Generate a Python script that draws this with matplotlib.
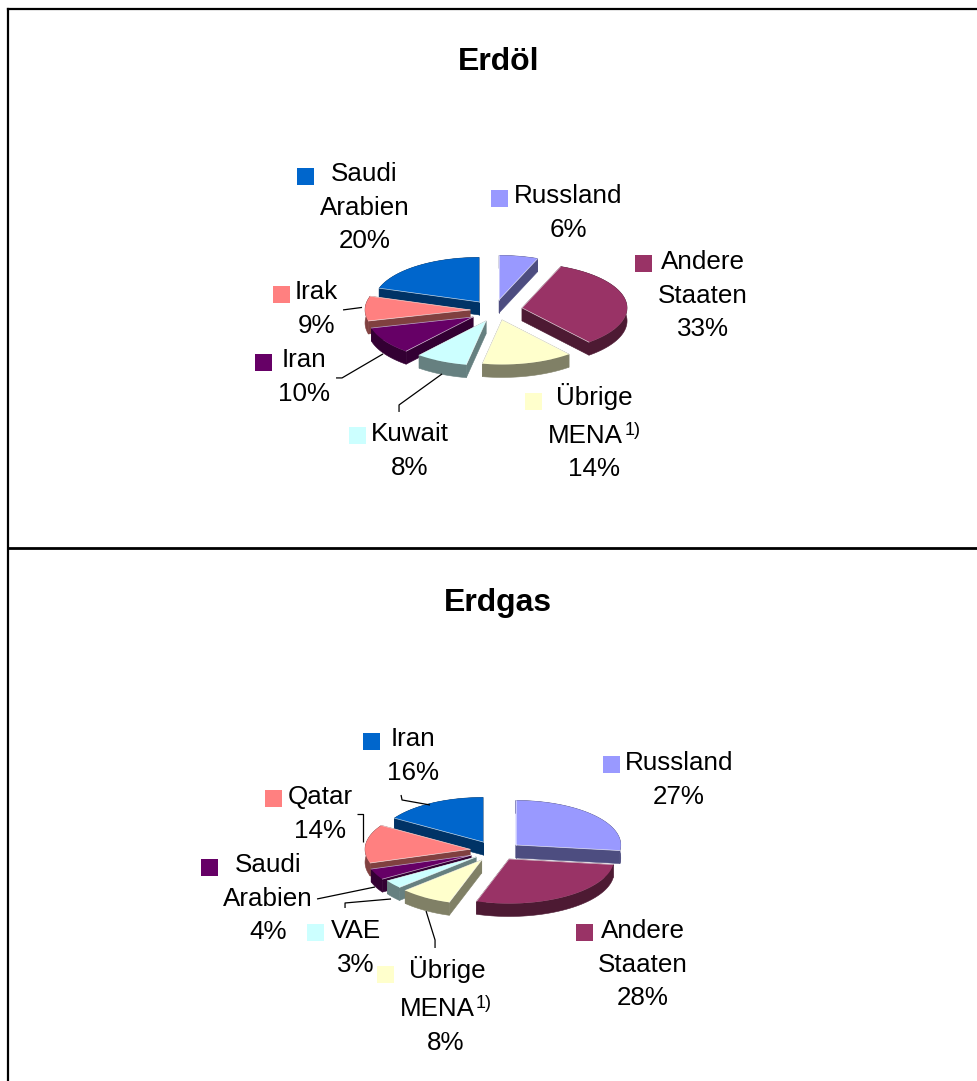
import numpy as np
import matplotlib
matplotlib.use('Agg')
import matplotlib.pyplot as plt
from matplotlib.patches import Rectangle

plt.rcParams['font.family'] = ['Liberation Sans', 'DejaVu Sans']

# shares in percent, clockwise from twelve o'clock
oil_names = ['Russland', 'Andere Staaten', 'Übrige MENA', 'Kuwait', 'Iran', 'Irak', 'Saudi Arabien']
oil_shares = [6, 33, 14, 8, 10, 9, 20]
gas_names = ['Russland', 'Andere Staaten', 'Übrige MENA', 'VAE', 'Saudi Arabien', 'Qatar', 'Iran']
gas_shares = [27, 28, 8, 3, 4, 14, 16]

slice_colors = ['#9999FF', '#993366', '#FFFFCC', '#CCFFFF', '#660066', '#FF8080', '#0066CC']
side_colors = ['#4D4D80', '#4D1A33', '#808066', '#668080', '#330033', '#804040', '#003366']

RX, RY, DEPTH = 105, 44.5, 13
FS = 18.7


def draw_pie(shares, center, explode):
    edges = 90 - 3.6 * np.cumsum([0] + shares)
    mids = (edges[:-1] + edges[1:]) / 2
    # back slices first so the front ones cover them
    for i in np.argsort(-np.sin(np.radians(mids))):
        a = np.radians(np.linspace(edges[i], edges[i + 1], 60))
        tx, ty = center[0] + explode[i][0], center[1] + explode[i][1]
        ax_, ay_ = tx + RX * np.cos(a), ty - RY * np.sin(a)
        # rim band along the arc plus the two cut faces
        ax.fill(np.r_[ax_, ax_[::-1]], np.r_[ay_, ay_[::-1] + DEPTH],
                color=side_colors[i], lw=0.4)
        for px, py in ((ax_[0], ay_[0]), (ax_[-1], ay_[-1])):
            ax.fill([tx, px, px, tx], [ty, py, py + DEPTH, ty + DEPTH],
                    color=side_colors[i], lw=0.4)
        ax.fill(np.r_[tx, ax_], np.r_[ty, ay_], color=slice_colors[i], lw=0)
        # thin light rim where the cut edges catch the light
        ax.plot([tx, ax_[0]], [ty, ay_[0]], color='white', lw=0.5, alpha=0.7)
        ax.plot([tx, ax_[-1]], [ty, ay_[-1]], color='white', lw=0.5, alpha=0.7)


def label(lines, x, y, key=None, key_color=None):
    for n, line in enumerate(lines):
        ax.text(x, y + n * 33.6, line, fontsize=FS, ha='center', va='baseline')
    if key is not None:
        ax.add_patch(Rectangle(key, 17, 17, color=key_color, lw=0))


def leader(xs, ys):
    ax.plot(xs, ys, color='black', lw=0.9, solid_capstyle='butt')


fig = plt.figure(figsize=(9.771, 10.811), dpi=100)
ax = fig.add_axes([0, 0, 1, 1])
ax.set_xlim(0, 977)
ax.set_ylim(1081, 0)
ax.axis('off')

# table rules around the two charts
ax.plot([8, 8], [9, 1081], color='black', lw=1.6)
ax.plot([8, 977], [9.5, 9.5], color='black', lw=1.6)
ax.plot([8, 977], [548.5, 548.5], color='black', lw=2)

ax.text(499, 70, 'Erdöl', fontsize=23, fontweight='bold', ha='center', va='baseline')
ax.text(498, 611, 'Erdgas', fontsize=23, fontweight='bold', ha='center', va='baseline')

draw_pie(oil_shares, (487, 313),
         [(12, -13), (35, -5), (15, 7), (-1, 8), (-14, 4), (-17, -3), (-8, -11)])
draw_pie(gas_shares, (487, 852),
         [(28.7, -7), (22, 7), (-5.3, 8), (-11, 5), (-16, 3.3), (-17, -2.7), (-4, -10)])

leader([343, 362], [310, 307.5])
leader([336, 342, 383], [378, 378, 354])
leader([399, 399, 442], [412, 405, 374])

label(['Russland', f'{oil_shares[0]}%'], 568, 203, (491, 190), slice_colors[0])
label(['Andere', 'Staaten', f'{oil_shares[1]}%'], 703, 269, (635, 255), slice_colors[1])
label(['Übrige'], 594.5, 405, (525, 393), slice_colors[2])
ax.text(623, 443, 'MENA', fontsize=FS, ha='right', va='baseline')
ax.text(624.5, 435, '1)', fontsize=13, ha='left', va='baseline')
ax.text(593.5, 476, f'{oil_shares[2]}%', fontsize=FS, ha='center', va='baseline')
label(['Kuwait', f'{oil_shares[3]}%'], 410, 441, (349, 427), slice_colors[3])
label(['Iran', f'{oil_shares[4]}%'], 304, 367, (255, 354), slice_colors[4])
label(['Irak', f'{oil_shares[5]}%'], 316, 299, (273, 286), slice_colors[5])
label(['Saudi', 'Arabien', f'{oil_shares[6]}%'], 364.5, 181, (297, 168), slice_colors[6])

leader([401, 402, 430], [795, 800, 805])
leader([357, 363, 363], [814, 814, 842])
leader([317, 375], [899, 887])
leader([345, 345, 391], [908, 903, 899])
leader([426, 435, 435], [911, 940, 948])

label(['Russland', f'{gas_shares[0]}%'], 679, 770, (603, 756), slice_colors[0])
label(['Andere', 'Staaten', f'{gas_shares[1]}%'], 642.5, 938, (576, 924), slice_colors[1])
label(['Übrige'], 447, 978, (377, 966), slice_colors[2])
ax.text(474.5, 1016, 'MENA', fontsize=FS, ha='right', va='baseline')
ax.text(476, 1008, '1)', fontsize=13, ha='left', va='baseline')
ax.text(446, 1050, f'{gas_shares[2]}%', fontsize=FS, ha='center', va='baseline')
label(['VAE', f'{gas_shares[3]}%'], 356, 938, (307, 924), slice_colors[3])
label(['Saudi', 'Arabien', f'{gas_shares[4]}%'], 268, 872, (201, 859), slice_colors[4])
label(['Qatar', f'{gas_shares[5]}%'], 320, 804, (265, 790), slice_colors[5])
label(['Iran', f'{gas_shares[6]}%'], 412.5, 746, (363, 733), slice_colors[6])

fig.savefig('out.png', dpi=100, facecolor='white')
